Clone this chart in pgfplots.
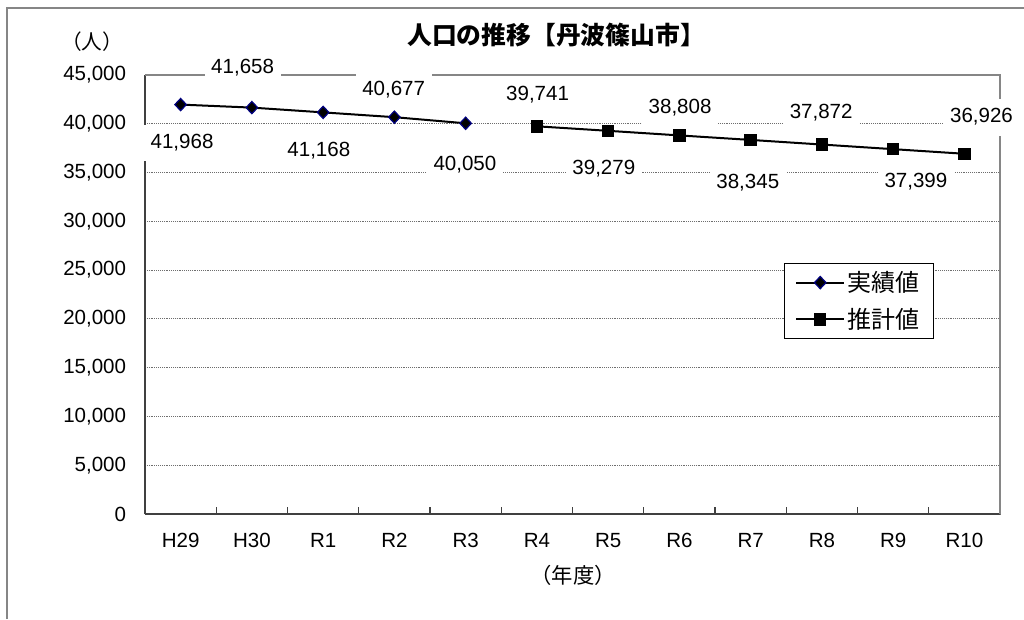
\documentclass[border=0pt]{standalone}
\usepackage{fontspec}
\setmainfont{Liberation Sans}
\newfontfamily\jp{Noto Sans CJK JP}
\usepackage{pgfplots}
\usepackage{pgfplotstable}
\pgfplotsset{compat=1.18}
\definecolor{navyedge}{RGB}{0,0,128}
\definecolor{axisdark}{RGB}{64,64,64}
\definecolor{bordergray}{RGB}{134,134,134}
\definecolor{gridgray}{RGB}{110,110,110}

\pgfplotstableread{
x y
0 41968
1 41658
2 41168
3 40677
4 40050
}\actual
\pgfplotstableread{
x y
5 39741
6 39279
7 38808
8 38345
9 37872
10 37399
11 36926
}\projected
% label positions (x, y in axis units) and the value shown
\pgfplotstableread{
x y v
0.02 38030 41968
0.87 45760 41658
1.94 37210 41168
2.99 43460 40677
3.99 35770 40050
5.01 42950 39741
5.94 35360 39279
7.01 41620 38808
7.96 33930 38345
8.99 41100 37872
10.32 34030 37399
11.24 40690 36926
}\labels

\begin{document}
\begin{tikzpicture}
\draw[bordergray, line width=0.9pt] (5.25pt,0) -- (5.25pt,458.25pt) -- (768pt,458.25pt);
\begin{axis}[
  set layers, clip=false,
  at={(108.75pt,78.75pt)}, anchor=south west,
  scale only axis, width=641.25pt, height=329.25pt,
  xmin=-0.5, xmax=11.5, ymin=0, ymax=45000,
  axis x line*=bottom, axis y line*=left,
  axis line style={line width=1.3pt, color=axisdark},
  xtick={0,...,11},
  xticklabels={H29,H30,R1,R2,R3,R4,R5,R6,R7,R8,R9,R10},
  minor xtick={-0.5,0.5,...,11.5},
  major tick length=0pt, minor tick length=5pt, tick align=inside,
  minor tick style={line width=0.8pt, color=axisdark},
  ytick={0,5000,...,45000},
  scaled y ticks=false,
  ymajorgrids,
  grid style={densely dotted, gridgray, line width=0.6pt},
  /pgf/number format/1000 sep={,},
  /pgf/number format/assume math mode=true,
  tick label style={font=\fontsize{15.4}{18}\selectfont},
  yticklabel style={inner sep=0pt, xshift=-14pt},
  xticklabel style={inner sep=0pt, anchor=north, yshift=-14.5pt},
  legend style={at={(0.7474,0.5718)}, anchor=north west, draw=black, line width=0.8pt,
    font=\jp\fontsize{18}{21}\selectfont, inner xsep=8pt, inner ysep=4pt,
    row sep=7pt, cells={anchor=west}},
  legend image code/.code={\draw[mark repeat=2,mark phase=2,#1] plot coordinates {(0pt,0pt) (18pt,0pt) (36pt,0pt)};},
]
\addplot[bordergray, line width=1.1pt, mark=none, forget plot]
  coordinates {(-0.5,45000) (11.5,45000) (11.5,0)};
\addplot[black, line width=1.5pt, mark=diamond*, mark size=4.6pt,
  mark options={solid, fill=black, draw=navyedge, line width=0.9pt, xscale=1.25}]
  table[x=x,y=y] {\actual};
\addlegendentry{実績値}
\addplot[black, line width=1.5pt, mark=square*, mark size=3.9pt,
  mark options={solid, fill=black, draw=black}]
  table[x=x,y=y] {\projected};
\addlegendentry{推計値}
\addplot[draw=none, mark=none, forget plot,
  point meta=explicit,
  nodes near coords,
  nodes near coords align={center},
  every node near coord/.append style={anchor=center, fill=white, inner xsep=5pt, inner ysep=7.5pt,
    font=\fontsize{15.4}{18}\selectfont, text=black}]
  table[x=x,y=y,meta=v] {\labels};
\end{axis}
\node[font=\jp\bfseries\fontsize{18.6}{22}\selectfont] at (417pt,438pt) {人口の推移【丹波篠山市】};
\node[font=\jp\fontsize{15.5}{18}\selectfont] at (69pt,432.75pt) {（人）};
\node[font=\jp\fontsize{16}{19}\selectfont] at (429.75pt,33pt) {（年度）};
\pgfresetboundingbox
\path[use as bounding box] (0,0) rectangle (768pt,464.25pt);
\end{tikzpicture}
\end{document}
